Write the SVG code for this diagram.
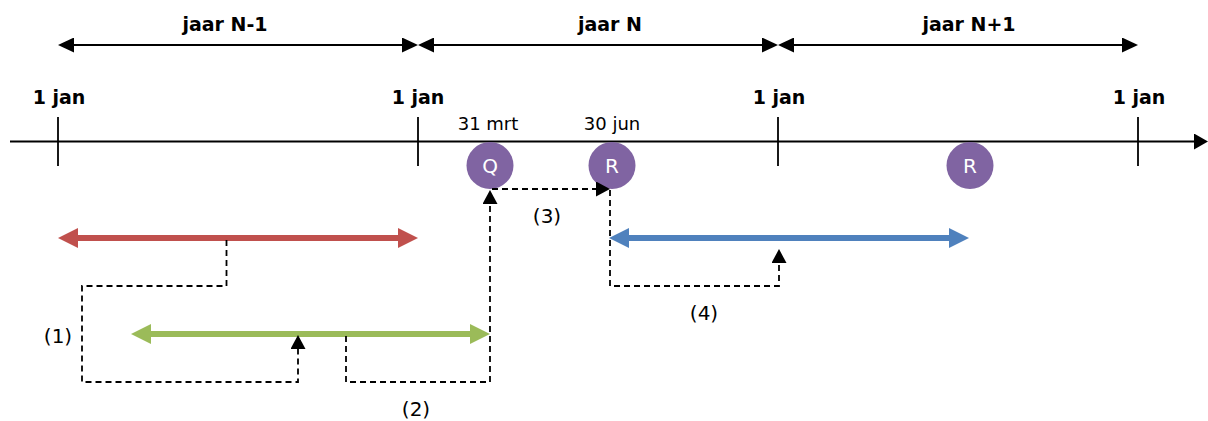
<svg xmlns="http://www.w3.org/2000/svg" width="1208" height="421" viewBox="0 0 1208 421">
<style>
  text { font-family: "DejaVu Sans", Verdana, sans-serif; fill: #000; }
  .bold { font-weight: bold; font-size: 19px; text-anchor: middle; }
  .lbl { font-size: 18px; text-anchor: middle; }
  .num { font-size: 20px; text-anchor: middle; }
  .circ { font-size: 20px; text-anchor: middle; fill: #fff; }
  .axis { stroke: #000; stroke-width: 2; fill: none; }
  .tick { stroke: #000; stroke-width: 1.8; fill: none; }
  .year { stroke: #000; stroke-width: 1.8; fill: none; marker-start: url(#yh); marker-end: url(#yh); }
  .dash { stroke: #000; stroke-width: 1.8; stroke-dasharray: 6 4; fill: none; marker-end: url(#dh); }
  .thick { stroke-width: 6; fill: none; }
  .node { fill: #8064A2; }
</style>
<defs>
  <marker id="yh" viewBox="0 0 16 15" refX="0" refY="7.5" markerWidth="16" markerHeight="15" markerUnits="userSpaceOnUse" orient="auto-start-reverse">
    <path d="M0,0 L16,7.5 L0,15 z" fill="#000"/>
  </marker>
  <marker id="ah" viewBox="0 0 14 16" refX="0" refY="8" markerWidth="14" markerHeight="16" markerUnits="userSpaceOnUse" orient="auto">
    <path d="M0,0 L14,8 L0,16 z" fill="#000"/>
  </marker>
  <marker id="dh" viewBox="0 0 14 15" refX="0" refY="7.5" markerWidth="14" markerHeight="15" markerUnits="userSpaceOnUse" orient="auto">
    <path d="M0,0 L14,7.5 L0,15 z" fill="#000"/>
  </marker>
  <marker id="rh" viewBox="0 0 20 20" refX="0" refY="10" markerWidth="20" markerHeight="20" markerUnits="userSpaceOnUse" orient="auto-start-reverse">
    <path d="M0,0 L20,10 L0,20 z" fill="#C0504D"/>
  </marker>
  <marker id="gh" viewBox="0 0 20 20" refX="0" refY="10" markerWidth="20" markerHeight="20" markerUnits="userSpaceOnUse" orient="auto-start-reverse">
    <path d="M0,0 L20,10 L0,20 z" fill="#9BBB59"/>
  </marker>
  <marker id="bh" viewBox="0 0 20 20" refX="0" refY="10" markerWidth="20" markerHeight="20" markerUnits="userSpaceOnUse" orient="auto-start-reverse">
    <path d="M0,0 L20,10 L0,20 z" fill="#4F81BD"/>
  </marker>
</defs>

<g id="timeline">
  <line class="axis" x1="10" y1="141.5" x2="1194" y2="141.5" marker-end="url(#ah)"/>
  <line class="tick" x1="58" y1="117" x2="58" y2="166"/>
  <line class="tick" x1="418" y1="117" x2="418" y2="166"/>
  <line class="tick" x1="778" y1="117" x2="778" y2="166"/>
  <line class="tick" x1="1138" y1="117" x2="1138" y2="166"/>
  <text class="bold" x="59" y="104">1 jan</text>
  <text class="bold" x="418" y="104">1 jan</text>
  <text class="bold" x="779" y="104">1 jan</text>
  <text class="bold" x="1139" y="104">1 jan</text>
  <text class="lbl" x="488" y="130">31 mrt</text>
  <text class="lbl" x="612" y="130">30 jun</text>
</g>

<g id="years">
  <line class="year" x1="74" y1="45" x2="402" y2="45"/>
  <line class="year" x1="434" y1="45" x2="762" y2="45"/>
  <line class="year" x1="794" y1="45" x2="1122" y2="45"/>
  <text class="bold" x="225" y="31">jaar N-1</text>
  <text class="bold" x="610" y="31">jaar N</text>
  <text class="bold" x="969" y="31">jaar N+1</text>
</g>

<g id="node-q">
  <circle class="node" cx="490" cy="165.5" r="23.5"/>
  <text class="circ" x="490" y="173">Q</text>
</g>
<g id="node-r1">
  <circle class="node" cx="612" cy="165.5" r="23.5"/>
  <text class="circ" x="612" y="173">R</text>
</g>
<g id="node-r2">
  <circle class="node" cx="970" cy="165.5" r="23.5"/>
  <text class="circ" x="970" y="173">R</text>
</g>

<g id="period-red">
  <line class="thick" stroke="#C0504D" x1="78" y1="238" x2="398" y2="238" marker-start="url(#rh)" marker-end="url(#rh)"/>
</g>
<g id="period-green">
  <line class="thick" stroke="#9BBB59" x1="151" y1="334" x2="470" y2="334" marker-start="url(#gh)" marker-end="url(#gh)"/>
</g>
<g id="period-blue">
  <line class="thick" stroke="#4F81BD" x1="629" y1="238" x2="949" y2="238" marker-start="url(#bh)" marker-end="url(#bh)"/>
</g>

<g id="connectors">
  <path class="dash" d="M226.5,240 V286 H82 V382 H298 V349"/>
  <path class="dash" d="M346,336 V382 H490 V204"/>
  <path class="dash" d="M492,189 H596"/>
  <path class="dash" d="M610,190 V286 H779 V263"/>
  <text class="num" x="58" y="343">(1)</text>
  <text class="num" x="416" y="416">(2)</text>
  <text class="num" x="547" y="223">(3)</text>
  <text class="num" x="704" y="320">(4)</text>
</g>
</svg>
